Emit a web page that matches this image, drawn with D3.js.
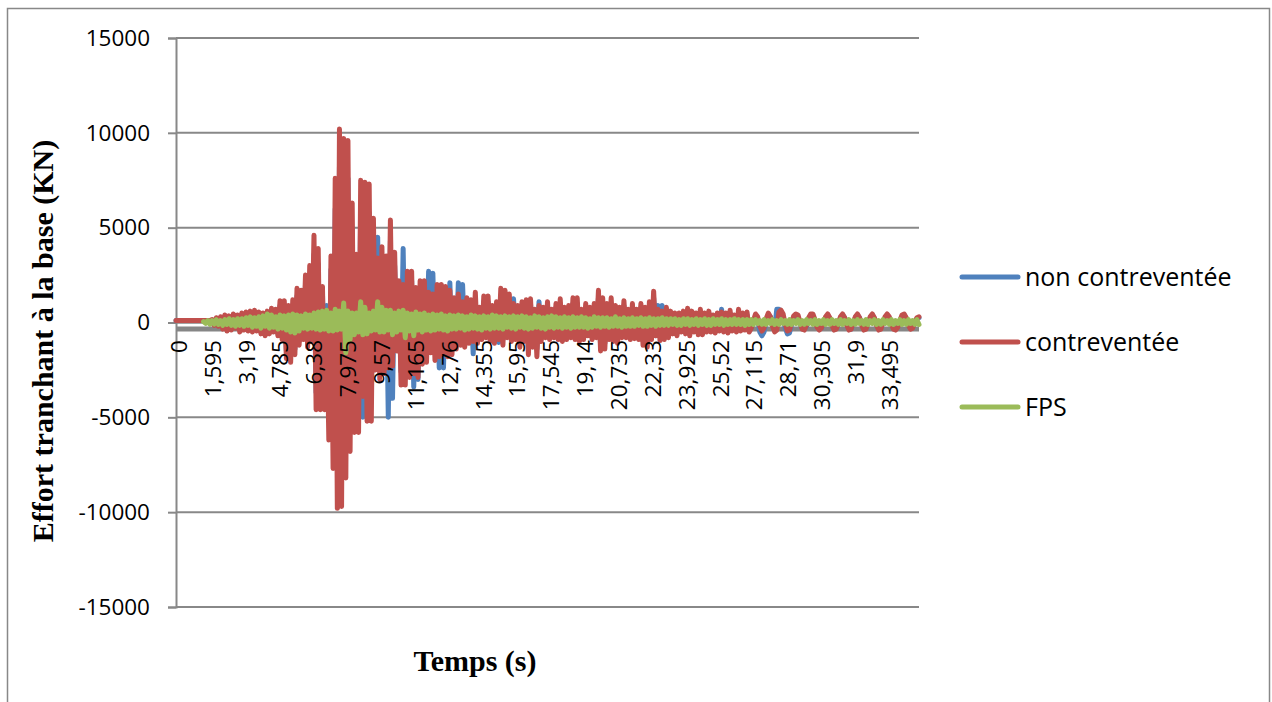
<!doctype html>
<html lang="fr">
  <head>
    <meta charset="UTF-8" />
    <title>Effort tranchant à la base</title>
    <script src="https://d3js.org/d3.v7.min.js"></script>
    <style>
      body {
        margin: 0;
        background: #fff;
      }
      svg {
        display: block;
      }
      .tick-label {
        font-family: 'Open Sans', sans-serif;
        font-size: 22.5px;
        fill: #000;
      }
      .axis-title {
        font-family: 'Liberation Serif', serif;
        font-weight: bold;
        font-size: 30px;
        fill: #000;
      }
      .legend-label {
        font-family: 'Open Sans', sans-serif;
        font-size: 25px;
        fill: #000;
      }
    </style>
  </head>
  <body>
    <svg id="chart" width="1272" height="702"></svg>
    <script>
      // time step between samples (s), x runs over 0..35 s
      const timeStep = 0.1;
      const timeMax = 35;

      // category labels shown on the time axis
      const xTickValues = [
        0, 1.595, 3.19, 4.785, 6.38, 7.975, 9.57, 11.165, 12.76, 14.355,
        15.95, 17.545, 19.14, 20.735, 22.33, 23.925, 25.52, 27.115, 28.71,
        30.305, 31.9, 33.495,
      ];
      const xTickLabels = [
        '0', '1,595', '3,19', '4,785', '6,38', '7,975', '9,57', '11,165',
        '12,76', '14,355', '15,95', '17,545', '19,14', '20,735', '22,33',
        '23,925', '25,52', '27,115', '28,71', '30,305', '31,9', '33,495',
      ];
      const yTicks = [-15000, -10000, -5000, 0, 5000, 10000, 15000];

      // non contreventée (kN), one value every 0.1 s
      const nonContreventee = [
        100, 100, 100, 100, 100, 100, 100, 100, 100, 100, 100, 100, 100, 100, 100, 100, 100,
        100, -100, 200, -150, 250, -250, 300, -300, 250, -300, 350, -250, 300, -350,
        400, -350, 450, -400, 500, -400, 450, -350, 450, -500, 400, -550, 500, -500, 600, -450, 550, -600, 900, -700,
        900, -1500, 700, -1700, 900, -1400, 1400, -1000, 1300, -800, 2000, -1100, 2400, -900, 3600, -3700, 3100, -3800, 1500, -3800,
        900, -5000, 2800, -6200, 6000, -7800, 8200, -7800, 7800, -6600, 7600, -5500, 5000, -4600, 2900, -5000, 6000, -5000, 5900, -4200,
        5800, -4200, 4400, -2000, 4500, -2400, 3200, -2100, 2800, -5000, 4300, -4000, 3000, -1200, 1800, -2600, 3900, -2600, 2200, -2300,
        2200, -3400, 1500, -3000, 1800, -1800, 1800, -1700, 2700, -1300, 2600, -1600, 1600, -2400, 1600, -2400, 1500, -1400, 2100, -1400,
        1000, -1100, 2100, -1000, 2000, -1000, 1000, -1000, 900, -1650, 1200, -900, 600, -700, 1100, -600, 1100, -800, 700, -900,
        900, -1050, 1400, -900, 1300, -600, 1200, -800, 1250, -700, 700, -1000, 900, -800, 1000, -1300, 1000, -1000, 500, -1400,
        1100, -800, 600, -600, 900, -700, 500, -600, 800, -700, 1000, -800, 600, -700, 800, -600, 1000, -700, 1000, -800,
        500, -700, 800, -500, 600, -700, 800, -600, 1300, -1200,
        1000, -1100, 800, -700, 1000, -800, 700, -900, 600, -600, 900, -600, 500, -700, 800, -650, 500, -700, 800, -900,
        600, -1000, 900, -700, 1300, -700, 900, -750, 900, -700,
        600, -500, 400, -450, 300, -500, 400, -350, 500, -400, 600, -500, 400, -350, 300, -500, 550, -550, 400, -350,
        500, -450, 250, -450, 400, -350, 700, -350, 350, -400, 500, -350, 250, -400, 550, -400, 350, -350, 400, -450,
        -300, 0, 300, 200, -500, -700, -500, 0, 350, 300, 0, -350, 700, 700, 500, 200, -300, -600, -550, -100,
        300, 350, 300, -100, -300, -350, -200, 150, 350, 350,
        100, -200, -350, -300, -50, 250, 350, 200, -100, -350, -300, -100, 250, 400, 250, -100, -350, -350, -50, 250,
        400, 250, -100, -350, -300, 0, 250, 400, 200, -100, -350, -300, 0, 250, 350, 250, -100, -300, -350, -200,
        100, 300, 400, 200, -100, -300, -250, 0, 200, 250,
      ];

      // contreventée (kN)
      const contreventee = [
        100, 100, 100, 100, 100, 100, 100, 100, 100, 100, 100, 100, 100, 100, 100, 100, 100,
        150, -150, 250, -200, 300,
        -350, 400, -450, 350, -400, 450, -300, 400, -500, 500,
        -400, 550, -450, 600, -500, 650, -450, 550, -600, 500,
        -700, 600, -600, 750, -500, 700, -700, 1150, -900,
        1150, -1900, 900, -2100, 1200, -1700, 1800, -1200, 1700, -900,
        2500, -1300, 3000, -1000, 4600, -4600, 3900, -4600, 1900, -4600,
        600, -6200, 3500, -7700, 7600, -9800, 10200, -9700, 9700, -8200,
        9600, -6800, 6300, -5800, 3600, -5800, 7500, -3900, 7400, -5200,
        7300, -5200, 5500, -2500, 3400, -3000, 4000, -2700, 3500, -2400,
        5400, -2300, 3700, -1500, 2200, -3300, 2000, -3300, 2700, -2900,
        2700, -2700, 1850, -2900, 2200, -2200, 2200, -2100, 1600, -1600,
        1500, -2000, 2000, -1800, 2000, -1650, 1900, -1800, 1700, -1700,
        1300, -1400, 1500, -1200, 1100, -1300, 1300, -1100, 1200, -1000,
        1600, -1100, 800, -900, 1400, -800, 1400, -1000, 900, -1100,
        1100, -900, 1800, -1200, 1700, -800, 1500, -1000, 1000, -900,
        900, -1300, 1100, -1000, 1200, -1700, 1250, -1300, 700, -1800,
        900, -1000, 800, -800, 1100, -900, 700, -800, 1000, -900,
        1250, -1000, 800, -900, 900, -800, 1300, -900, 1300, -1000,
        700, -900, 1000, -700, 800, -900, 1000, -800, 1700, -1500,
        1300, -1400, 1000, -900, 1300, -1000, 900, -1100, 800, -800,
        1150, -800, 700, -900, 1000, -850, 700, -900, 1000, -1200,
        800, -1300, 1100, -900, 1650, -700, 700, -950, 600, -900,
        800, -800, 600, -600, 500, -700, 500, -500, 600, -600,
        750, -700, 600, -500, 500, -650, 700, -650, 500, -500,
        600, -500, 400, -550, 500, -450, 550, -500, 500, -550,
        650, -450, 400, -500, 700, -450, 500, -400, 550, -500,
        -300, 100, 450, 300, -200, -450, -300, 200, 500, 300, -200, -500, -400,
        550, 650, 450, -100, -450, -400, 0, 350, 450, 400, 0, -350, -400, -150, 250, 450, 450,
        150, -250, -400, -300, 0, 300, 450, 250, -150, -400,
        -350, -50, 300, 450, 250, -150, -400, -350, 0, 300,
        450, 250, -150, -400, -350, 0, 300, 450, 250, -150,
        -400, -350, 0, 300, 450, 300, -100, -350, -400, -250,
        100, 400, 450, 250, -150, -350, -300, 0, 250, 300,
      ];

      // FPS (kN), no values before 1.3 s
      const fps = [
        null, null, null, null, null, null, null, null, null, null, null, null, null,
        50, -50, 100, -100, 100, -80, 150, -100, 100, -150, 150, -100, 200, -150, 150, -200, 200, -150,
        200, -200, 250, -150, 300, -250, 250, -200, 300, -300, 350, -200, 450, -300, 400, -250, 300, -350, 400, -300,
        350, -400, 400, -500, 450, -550, 400, -450, 350, -300, 450, -350, 400, -300, 500, -350, 550, -400, 600, -350,
        650, -450, 500, -450, 700, -400, 600, -350, 1030, -1600, 600, -900, 500, -650, 500, -500, 1100, -650, 800, -600,
        500, -450, 600, -400, 1100, -500, 800, -500, 650, -400, 650, -650, 500, -500, 600, -400, 650, -800, 500, -450,
        450, -700, 550, -400, 450, -500, 500, -400, 400, -450, 450, -400, 400, -350, 450, -400, 350, -450, 400, -350,
        350, -350, 400, -300, 350, -400, 300, -350, 400, -300, 350, -350, 300, -400, 350, -300, 300, -350, 400, -300,
        350, -300, 300, -350, 350, -250, 300, -300, 350, -350, 300, -250, 350, -300, 300, -350, 250, -300, 350, -250,
        300, -300, 250, -350, 300, -250, 350, -300, 300, -250, 250, -300, 300, -250, 250, -300, 300, -250, 250, -250,
        300, -250, 250, -300, 200, -250, 300, -200, 250, -250,
        250, -200, 250, -250, 200, -200, 300, -200, 200, -250, 250, -200, 200, -200, 250, -200, 200, -150, 250, -200,
        200, -200, 250, -150, 200, -200, 200, -150, 250, -150,
        200, -150, 200, -100, 200, -150, 150, -150, 200, -100, 200, -150, 150, -100, 200, -150, 150, -100, 200, -150,
        150, -150, 200, -100, 150, -100, 200, -150, 150, -100, 150, -100, 200, -100, 150, -100, 150, -150, 150, -100,
        150, -100, 150, -50, 100, -100, 150, -100, 100, -50, 150, -100, 100, -100, 150, -50, 100, -100, 150, -100,
        100, -50, 150, -100, 100, -100, 150, -50, 100, -100,
        150, -100, 100, -50, 150, -100, 100, -100, 150, -50, 100, -100, 150, -100, 100, -50, 150, -100, 100, -100,
        150, -50, 100, -100, 150, -100, 100, -50, 150, -100, 100, -100, 150, -50, 100, -100, 150, -100, 100, -50,
        150, -100, 100, -100, 150, -50, 100, -100, 150, -100,
      ];

      // grey base series lying just under zero
      const baseTimes = [0, 35];
      const baseValues = [-340, -340];

      const series = [
        { name: 'non contreventée', values: nonContreventee, color: '#4F81BD' },
        { name: 'contreventée', values: contreventee, color: '#C0504D' },
        { name: 'FPS', values: fps, color: '#9BBB59' },
      ];

      const plot = { left: 176, right: 919, top: 38, bottom: 607 };

      const svg = d3.select('#chart');

      // outer chart frame
      svg
        .append('rect')
        .attr('x', 7.5)
        .attr('y', 8.5)
        .attr('width', 1262)
        .attr('height', 730)
        .attr('fill', '#fff')
        .attr('stroke', '#888')
        .attr('stroke-width', 1.5);

      const x = d3
        .scaleLinear()
        .domain([0, timeMax])
        .range([plot.left, plot.right]);
      const y = d3
        .scaleLinear()
        .domain([-15000, 15000])
        .range([plot.bottom, plot.top]);

      // horizontal gridlines
      svg
        .append('g')
        .selectAll('line')
        .data(yTicks)
        .enter()
        .append('line')
        .attr('x1', plot.left)
        .attr('x2', plot.right)
        .attr('y1', (d) => y(d))
        .attr('y2', (d) => y(d))
        .attr('stroke', '#888')
        .attr('stroke-width', 2);

      // y axis
      const yAxis = svg
        .append('g')
        .attr('transform', 'translate(' + plot.left + ',0)')
        .call(
          d3
            .axisLeft(y)
            .tickValues(yTicks)
            .tickSize(8)
            .tickPadding(18)
            .tickFormat((d) => String(d)),
        );
      yAxis.select('.domain').attr('stroke', '#888').attr('stroke-width', 2);
      yAxis.selectAll('.tick line').attr('stroke', '#888').attr('stroke-width', 2);
      yAxis
        .selectAll('.tick text')
        .attr('class', 'tick-label')
        .attr('font-family', null)
        .attr('font-size', null);

      // zero line of the category axis
      svg
        .append('line')
        .attr('x1', plot.left)
        .attr('x2', plot.right)
        .attr('y1', y(0))
        .attr('y2', y(0))
        .attr('stroke', '#888')
        .attr('stroke-width', 2);

      // grey base line
      svg
        .append('path')
        .datum(baseValues)
        .attr('fill', 'none')
        .attr('stroke', '#868686')
        .attr('stroke-width', 5)
        .attr(
          'd',
          d3
            .line()
            .x((d, i) => x(baseTimes[i]))
            .y((d) => y(d)),
        );

      const line = d3
        .line()
        .defined((d) => d !== null)
        .x((d, i) => x(i * timeStep))
        .y((d) => y(d));

      series.forEach((s) => {
        svg
          .append('path')
          .datum(s.values)
          .attr('fill', 'none')
          .attr('stroke', s.color)
          .attr('stroke-width', 5)
          .attr('stroke-linejoin', 'round')
          .attr('stroke-linecap', 'round')
          .attr('d', line);
      });

      // time labels, rotated, drawn above the data
      svg
        .append('g')
        .selectAll('text')
        .data(xTickValues)
        .enter()
        .append('text')
        .attr('class', 'tick-label')
        .attr('transform', (d) => 'translate(' + (x(d) + 3) + ',340) rotate(-90)')
        .attr('text-anchor', 'end')
        .attr('dy', '0.35em')
        .text((d, i) => xTickLabels[i]);

      // axis titles
      svg
        .append('text')
        .attr('class', 'axis-title')
        .attr('x', 475)
        .attr('y', 671)
        .attr('text-anchor', 'middle')
        .text('Temps (s)');
      svg
        .append('text')
        .attr('class', 'axis-title')
        .attr('transform', 'translate(53,341) rotate(-90)')
        .attr('text-anchor', 'middle')
        .text('Effort tranchant à la base (KN)');

      // legend
      const legend = svg
        .append('g')
        .selectAll('g')
        .data(series)
        .enter()
        .append('g')
        .attr('transform', (d, i) => 'translate(962,' + (277 + i * 65) + ')');
      legend
        .append('line')
        .attr('x1', 0)
        .attr('x2', 56)
        .attr('stroke', (d) => d.color)
        .attr('stroke-width', 5)
        .attr('stroke-linecap', 'round');
      legend
        .append('text')
        .attr('class', 'legend-label')
        .attr('x', 63)
        .attr('dy', '0.35em')
        .text((d) => d.name);
    </script>
  </body>
</html>
